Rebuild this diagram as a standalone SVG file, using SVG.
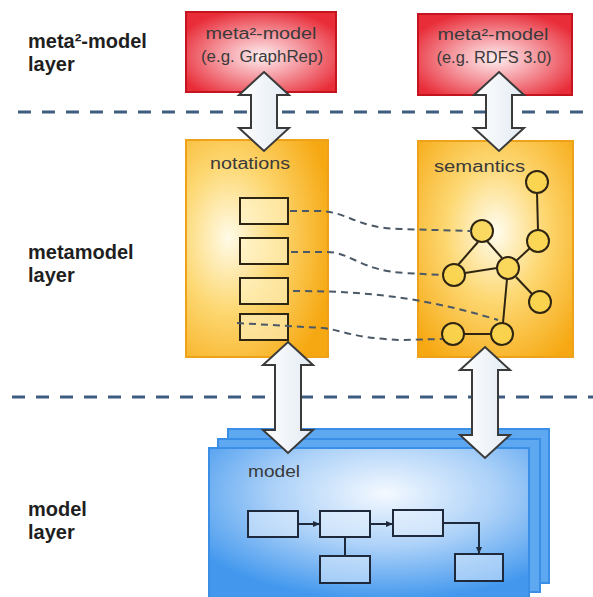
<svg xmlns="http://www.w3.org/2000/svg" width="593" height="597" viewBox="0 0 593 597">
<defs>
<radialGradient id="gRed" cx="0.5" cy="0.55" r="0.6">
<stop offset="0" stop-color="#fdeef0"/>
<stop offset="0.45" stop-color="#f59aa1"/>
<stop offset="1" stop-color="#e82c38"/>
</radialGradient>
<radialGradient id="gOrgL" cx="0.3" cy="0.45" r="0.75">
<stop offset="0" stop-color="#fffbe8"/>
<stop offset="0.45" stop-color="#fdd873"/>
<stop offset="1" stop-color="#f6a812"/>
</radialGradient>
<radialGradient id="gOrgR" cx="0.5" cy="0.42" r="0.7">
<stop offset="0" stop-color="#fffdf0"/>
<stop offset="0.45" stop-color="#fdd873"/>
<stop offset="1" stop-color="#f6a812"/>
</radialGradient>
<radialGradient id="gBlue" cx="0.55" cy="0.3" r="0.7">
<stop offset="0" stop-color="#f4f9ff"/>
<stop offset="0.5" stop-color="#acd1f8"/>
<stop offset="1" stop-color="#4398ee"/>
</radialGradient>
<linearGradient id="gArrow" x1="0" y1="0" x2="1" y2="0">
<stop offset="0" stop-color="#ffffff"/>
<stop offset="1" stop-color="#e2eaf3"/>
</linearGradient>
<marker id="mArr" viewBox="0 0 8 8" refX="7" refY="4" markerWidth="8" markerHeight="8" markerUnits="userSpaceOnUse" orient="auto">
<path d="M0,1 L7,4 L0,7 Z" fill="#1e2a3c"/>
</marker>
<style>
.lbl{font-family:"Liberation Sans",Arial,sans-serif;font-weight:bold;font-size:20px;fill:#1f1f1f}
.txt{font-family:"Liberation Sans",Arial,sans-serif;font-size:16px;fill:#3a3a3a}
.layer{stroke:#3e5c80;stroke-width:3;stroke-dasharray:13 11;fill:none}
.red{fill:url(#gRed);stroke:#c4141f;stroke-width:2}
.org{stroke:#eea21a;stroke-width:2}
.blueBack{fill:#5ea8f1;stroke:#3a8ee6;stroke-width:2}
.blue{fill:url(#gBlue);stroke:#3a8ee6;stroke-width:2}
.arrow{fill:url(#gArrow);stroke:#3a3a3a;stroke-width:2;stroke-linejoin:miter}
.nbox{fill:#fff3c8;fill-opacity:0.6;stroke:#2e2412;stroke-width:2}
.node{fill:#f9d54e;fill-opacity:0.85;stroke:#2e2412;stroke-width:2}
.edge{stroke:#2e2412;stroke-width:2;fill:none}
.map{stroke:#4b5866;stroke-width:2;stroke-dasharray:7 5;fill:none}
.mbox{fill:#e8f2fd;fill-opacity:0.5;stroke:#1e2a3c;stroke-width:2}
.mline{stroke:#1e2a3c;stroke-width:2;fill:none}
</style>
</defs>

<g id="layer-lines">
<line class="layer" x1="18" y1="112" x2="593" y2="112"/>
<line class="layer" x1="12" y1="397" x2="593" y2="397"/>
</g>

<g id="labels">
<text class="lbl" x="28" y="48">meta²-model</text>
<text class="lbl" x="28" y="71">layer</text>
<text class="lbl" x="28" y="259">metamodel</text>
<text class="lbl" x="28" y="282">layer</text>
<text class="lbl" x="28" y="516">model</text>
<text class="lbl" x="28" y="539">layer</text>
</g>

<g id="meta2-graphrep">
<rect class="red" x="186" y="12" width="150" height="80"/>
<text class="txt" x="261" y="39" text-anchor="middle" textLength="111" lengthAdjust="spacingAndGlyphs">meta²-model</text>
<text class="txt" x="262" y="62" text-anchor="middle" textLength="122" lengthAdjust="spacingAndGlyphs">(e.g. GraphRep)</text>
</g>

<g id="meta2-rdfs">
<rect class="red" x="418" y="14" width="154" height="81"/>
<text class="txt" x="493" y="40" text-anchor="middle" textLength="111" lengthAdjust="spacingAndGlyphs">meta²-model</text>
<text class="txt" x="494" y="63" text-anchor="middle" textLength="115" lengthAdjust="spacingAndGlyphs">(e.g. RDFS 3.0)</text>
</g>

<g id="notations">
<rect class="org" x="186" y="140" width="142" height="217" fill="url(#gOrgL)"/>
<text class="txt" x="210" y="169" textLength="80" lengthAdjust="spacingAndGlyphs">notations</text>
<rect class="nbox" x="240" y="198" width="48" height="26"/>
<rect class="nbox" x="240" y="238" width="48" height="26"/>
<rect class="nbox" x="240" y="278" width="48" height="26"/>
<rect class="nbox" x="240" y="314" width="48" height="26"/>
</g>

<g id="semantics">
<rect class="org" x="418" y="141" width="155" height="216" fill="url(#gOrgR)"/>
<text class="txt" x="434" y="172" textLength="91" lengthAdjust="spacingAndGlyphs">semantics</text>
<line class="edge" x1="537" y1="193" x2="538" y2="230"/>
<line class="edge" x1="530" y1="248" x2="516" y2="261"/>
<line class="edge" x1="487" y1="241" x2="502" y2="258"/>
<line class="edge" x1="478" y1="242" x2="458" y2="265"/>
<line class="edge" x1="465" y1="273" x2="497" y2="268"/>
<line class="edge" x1="516" y1="277" x2="532" y2="294"/>
<line class="edge" x1="507" y1="279" x2="503" y2="323"/>
<line class="edge" x1="464" y1="334" x2="491" y2="334"/>
<circle class="node" cx="537" cy="182" r="11"/>
<circle class="node" cx="538" cy="241" r="11"/>
<circle class="node" cx="482" cy="231" r="11"/>
<circle class="node" cx="508" cy="268" r="11"/>
<circle class="node" cx="454" cy="275" r="11"/>
<circle class="node" cx="540" cy="302" r="11"/>
<circle class="node" cx="453" cy="334" r="11"/>
<circle class="node" cx="502" cy="334" r="11"/>
</g>

<g id="model">
<rect class="blueBack" x="228" y="429" width="321" height="154"/>
<rect class="blueBack" x="218" y="439" width="322" height="153"/>
<rect class="blue" x="209" y="448" width="320" height="152"/>
<text class="txt" x="248" y="477" textLength="52" lengthAdjust="spacingAndGlyphs">model</text>
<rect class="mbox" x="248" y="511" width="50" height="26"/>
<rect class="mbox" x="320" y="511" width="50" height="26"/>
<rect class="mbox" x="393" y="510" width="50" height="26"/>
<rect class="mbox" x="320" y="556" width="50" height="27"/>
<rect class="mbox" x="455" y="554" width="48" height="27"/>
</g>

<g id="connectors">
<path class="map" d="M290,211 L318,211 C348,211 355,228 400,229 L471,231"/>
<path class="map" d="M291,252 L327,252 C350,252 362,271 405,273 L443,275"/>
<path class="map" d="M293,291 C360,291 420,296 498,320"/>
<path class="map" d="M237,323 L323,328 C342,330 352,338 400,340 L442,339"/>
<path class="mline" d="M298,524 L320,524" marker-end="url(#mArr)"/>
<path class="mline" d="M370,524 L393,524" marker-end="url(#mArr)"/>
<path class="mline" d="M443,523 L479,523 L479,554" marker-end="url(#mArr)"/>
<path class="mline" d="M345,537 L345,556"/>
<path class="arrow" d="M264,72 L289,95 L277,95 L277,128 L289,128 L264,151 L239,128 L251,128 L251,95 L239,95 Z"/>
<path class="arrow" d="M499,72 L524,95 L512,95 L512,128 L524,128 L499,151 L474,128 L486,128 L486,95 L474,95 Z"/>
<path class="arrow" d="M288,342 L313,365 L301,365 L301,430 L313,430 L288,453 L263,430 L275,430 L275,365 L263,365 Z"/>
<path class="arrow" d="M485,347 L510,370 L498,370 L498,435 L510,435 L485,458 L460,435 L472,435 L472,370 L460,370 Z"/>
</g>
</svg>
